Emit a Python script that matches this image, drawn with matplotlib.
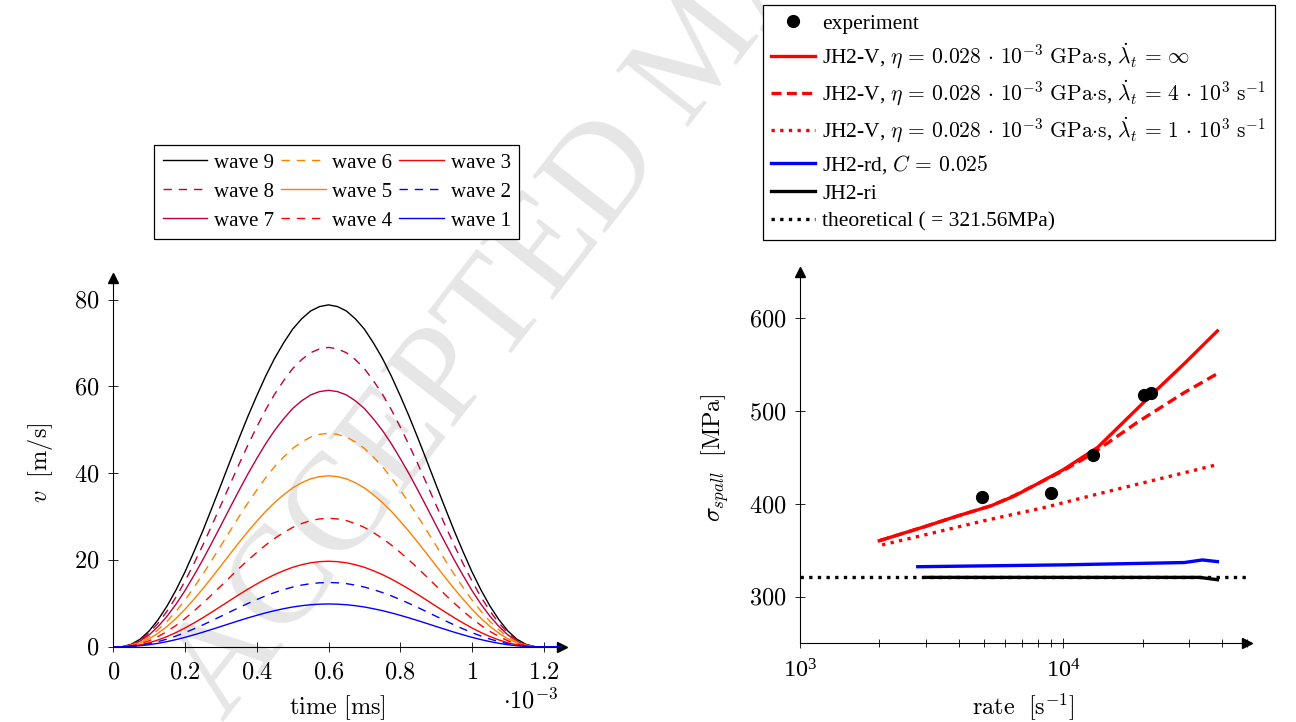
import numpy as np
import matplotlib
matplotlib.use("Agg")
from matplotlib import pyplot as plt
from matplotlib.ticker import NullFormatter, LogLocator

plt.rcParams['font.family'] = ['Liberation Serif', 'DejaVu Serif']
plt.rcParams['mathtext.fontset'] = 'cm'

# --- velocity pulses (time in units of 1e-3 ms) ---
time_pts = [0.000, 0.025, 0.050, 0.075, 0.100, 0.125, 0.150, 0.175, 0.200, 0.225,
            0.250, 0.275, 0.300, 0.325, 0.350, 0.375, 0.400, 0.425, 0.450, 0.475,
            0.500, 0.525, 0.550, 0.575, 0.600, 0.625, 0.650, 0.675, 0.700, 0.725,
            0.750, 0.775, 0.800, 0.825, 0.850, 0.875, 0.900, 0.925, 0.950, 0.975,
            1.000, 1.025, 1.050, 1.075, 1.100, 1.125, 1.150, 1.175, 1.200, 1.225,
            1.250]
pulse_shape = [0.000, 0.000, 0.007, 0.022, 0.046, 0.079, 0.119, 0.166, 0.219, 0.278,
               0.340, 0.406, 0.473, 0.541, 0.608, 0.673, 0.734, 0.792, 0.844, 0.889,
               0.929, 0.959, 0.982, 0.995, 1.000, 0.995, 0.982, 0.959, 0.929, 0.889,
               0.844, 0.792, 0.734, 0.673, 0.608, 0.541, 0.473, 0.406, 0.340, 0.278,
               0.219, 0.166, 0.119, 0.079, 0.046, 0.022, 0.007, 0.000, 0.000, 0.000,
               0.000]
wave_names = ['wave 9', 'wave 8', 'wave 7', 'wave 6', 'wave 5',
              'wave 4', 'wave 3', 'wave 2', 'wave 1']
wave_peaks = [78.8, 69.0, 59.1, 49.2, 39.4, 29.6, 19.7, 14.8, 9.85]
time_ticks = [0, 0.2, 0.4, 0.6, 0.8, 1.0, 1.2]
time_ticklabels = ['0', '0.2', '0.4', '0.6', '0.8', '1', '1.2']
v_ticks = [0, 20, 40, 60, 80]

wave_colors = ['black', '#bf0040', '#bf0040', '#ff8000', '#ff8000',
               'red', 'red', 'blue', 'blue']
wave_dashed = [False, True, False, True, False, True, False, True, False]

# --- spall strength vs strain rate ---
rate_exp = [4.92e3, 9.0e3, 1.296e4, 2.03e4, 2.16e4]
sigma_exp = [407.8, 412.1, 452.9, 517.7, 519.8]

rate_v_inf = [2.0e3, 3.0e3, 4.0e3, 5.3e3, 6.5e3, 8.0e3, 1.0e4, 1.35e4, 2.15e4, 2.9e4, 3.85e4]
sigma_v_inf = [360.5, 376.0, 387.5, 398.0, 408.5, 422.0, 437.0, 461.0, 517.0, 552.0, 586.5]
rate_v_4e3 = [2.0e3, 3.0e3, 4.0e3, 5.3e3, 6.5e3, 8.4e3, 1.0e4, 1.27e4, 1.91e4, 2.88e4, 3.85e4]
sigma_v_4e3 = [360.5, 376.0, 387.5, 398.0, 409.0, 425.0, 436.0, 453.0, 488.0, 520.0, 540.5]
rate_v_1e3 = [2.05e3, 3.0e3, 5.0e3, 8.4e3, 1.5e4, 2.96e4, 3.85e4]
sigma_v_1e3 = [356.0, 367.0, 382.0, 396.0, 414.0, 434.5, 442.5]
rate_rd = [2.8e3, 1.0e4, 2.88e4, 3.38e4, 3.85e4]
sigma_rd = [332.5, 334.5, 337.0, 339.8, 338.0]
rate_ri = [3.0e3, 1.0e4, 3.3e4, 3.85e4]
sigma_ri = [321.0, 321.0, 321.0, 318.5]
rate_theory = [1.0e3, 5.0e4]
sigma_theory = [321.56, 321.56]
sigma_ticks = [300, 400, 500, 600]

fig = plt.figure(figsize=(12.96, 7.22), dpi=100)

fig.text(0.172, 0.0, 'ACCEPTED MANUSCRIPT', rotation=52, rotation_mode='anchor',
         ha='left', va='baseline', fontsize=100, color='#e6e6e6', zorder=-1)


def style_axes(ax):
    ax.set_facecolor('none')
    for s in ['top', 'right']:
        ax.spines[s].set_visible(False)
    for s in ['left', 'bottom']:
        ax.spines[s].set_linewidth(0.8)
    ax.tick_params(which='major', direction='inout', length=7, width=0.6,
                   labelsize=17.5)
    ax.tick_params(which='minor', direction='inout', length=6, width=0.6)
    ax.tick_params(axis='x', which='both', pad=8)
    ax.tick_params(axis='y', which='both', pad=6.5)
    ax.plot(1, 0, '>', color='black', ms=6.5, transform=ax.transAxes, clip_on=False)
    ax.plot(0, 1, '^', color='black', ms=6.5, transform=ax.transAxes, clip_on=False)


legend_style = dict(frameon=True, fancybox=False, edgecolor='black',
                    framealpha=1, handletextpad=0.32, borderpad=0.4,
                    borderaxespad=0)

# left: velocity pulses
ax1 = fig.add_axes([0.0874, 0.1043, 0.346, 0.5107])
style_axes(ax1)
for name, peak, col, dashed in zip(wave_names, wave_peaks, wave_colors, wave_dashed):
    v = peak * np.array(pulse_shape)
    ls = (0, (6, 5)) if dashed else '-'
    ax1.plot(time_pts, v, color=col, lw=1.0, linestyle=ls, label=name)
ax1.set_xlim(0, 1.25)
ax1.set_ylim(0, 85)
ax1.set_xticks(time_ticks, ['$%s$' % t for t in time_ticklabels])
ax1.set_yticks(v_ticks, ['$%d$' % t for t in v_ticks])
ax1.set_xlabel(r'$\mathrm{time\ [ms]}$', fontsize=17.5, labelpad=7)
ax1.set_ylabel(r'$v\ \ [\mathrm{m/s}]$', fontsize=17.5, labelpad=14)
ax1.text(0.992, -0.112, r'$\cdot 10^{-3}$', transform=ax1.transAxes, ha='right',
         va='top', fontsize=17.5)
leg1 = fig.legend(*ax1.get_legend_handles_labels(), ncol=3, loc='lower center',
                  bbox_to_anchor=(0.2598, 0.669), fontsize=15, handlelength=2.15,
                  columnspacing=0.32, labelspacing=0.45, **legend_style)
leg1.get_frame().set_linewidth(0.9)

# right: spall strength
eta_txt = r'JH2-V, $\eta\,=\,0.028\,\cdot\,10^{-3}\ \mathrm{GPa{\cdot}s}$, '
ax2 = fig.add_axes([0.6173, 0.109, 0.3451, 0.5143])
style_axes(ax2)
ax2.set_xscale('log')
ax2.plot(rate_exp, sigma_exp, 'o', color='black', ms=8.5, label='experiment', zorder=5)
ax2.plot(rate_v_inf, sigma_v_inf, color='red', lw=2.4,
         label=eta_txt + r'$\dot{\lambda}_t\,=\,\infty$')
ax2.plot(rate_v_4e3, sigma_v_4e3, color='red', lw=2.4, linestyle=(0, (3, 1.6)),
         label=eta_txt + r'$\dot{\lambda}_t\,=\,4\,\cdot\,10^{3}\ \mathrm{s}^{-1}$')
ax2.plot(rate_v_1e3, sigma_v_1e3, color='red', lw=2.4, linestyle=(0, (1, 1.6)),
         label=eta_txt + r'$\dot{\lambda}_t\,=\,1\,\cdot\,10^{3}\ \mathrm{s}^{-1}$')
ax2.plot(rate_rd, sigma_rd, color='blue', lw=2.4, label=r'JH2-rd, $C\,=\,0.025$')
ax2.plot(rate_ri, sigma_ri, color='black', lw=2.4, label='JH2-ri')
ax2.plot(rate_theory, sigma_theory, color='black', lw=2.4, linestyle=(0, (1, 1.6)),
         label='theoretical ( = 321.56MPa)')
ax2.set_xlim(1e3, 5e4)
ax2.set_ylim(250, 650)
ax2.xaxis.set_major_locator(LogLocator(base=10))
ax2.xaxis.set_minor_locator(LogLocator(base=10, subs=np.arange(2, 10)))
ax2.xaxis.set_minor_formatter(NullFormatter())
ax2.set_yticks(sigma_ticks, ['$%d$' % t for t in sigma_ticks])
ax2.set_xlabel(r'$\mathrm{rate}\ \ [\mathrm{s}^{-1}]$', fontsize=17.5, labelpad=7)
ax2.set_ylabel(r'$\sigma_{spall}\ \ [\mathrm{MPa}]$', fontsize=17.5, labelpad=13)
leg2 = fig.legend(*ax2.get_legend_handles_labels(), loc='upper center',
                  bbox_to_anchor=(0.786, 0.993), fontsize=15.5, numpoints=1,
                  handlelength=2.05, labelspacing=0.36, **legend_style)
leg2.get_frame().set_linewidth(0.9)

fig.savefig('out.png', dpi=100)
